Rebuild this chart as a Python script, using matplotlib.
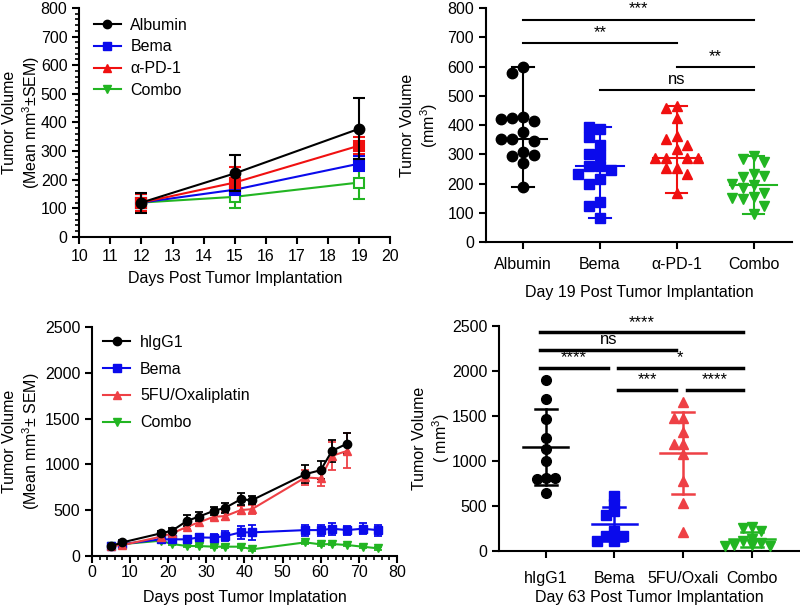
import matplotlib.pyplot as plt
import numpy as np
from matplotlib.lines import Line2D
from matplotlib.ticker import MultipleLocator

plt.rcParams['font.family'] = ['Liberation Sans', 'DejaVu Sans']
plt.rcParams['mathtext.fontset'] = 'custom'
plt.rcParams['mathtext.rm'] = 'Liberation Sans'
plt.rcParams['mathtext.it'] = 'Liberation Sans:italic'
plt.rcParams['font.size'] = 11

# ---- panel A: tumor growth, days 12-19
days_a = [12, 15, 19]
groups_a = ['Albumin', 'Bema', 'α-PD-1', 'Combo']
mean_a = [[120, 222, 378], [120, 165, 256], [120, 190, 319], [120, 140, 190]]
sem_a = [[35, 63, 107], [30, 25, 25], [30, 55, 30], [30, 38, 58]]

# ---- panel B: day 19 individual tumors
b_albumin = [598, 578, 428, 425, 415, 421, 375, 354, 347, 354, 309, 295, 299, 271, 189]
b_bema = [388, 392, 359, 333, 299, 301, 259, 260, 245, 234, 214, 198, 138, 124, 82]
b_pd1 = [465, 457, 423, 362, 351, 332, 317, 286, 286, 286, 286, 252, 252, 232, 169]
b_combo = [294, 284, 275, 231, 223, 226, 195, 197, 186, 169, 153, 147, 151, 123, 96]
b_labels = ['Albumin', 'Bema', 'α-PD-1', 'Combo']
b_sig = [(0, 3, 760, '***'), (0, 2, 680, '**'), (2, 3, 598, '**'), (1, 3, 519, 'ns')]

# ---- panel C: tumor growth, days 5-75
days_c = [5, 8, 18, 21, 25, 28, 32, 35, 39, 42, 56, 60, 63, 67, 71, 75]
groups_c = ['hIgG1', 'Bema', '5FU/Oxaliplatin', 'Combo']
higg_mean = [109, 149, 247, 276, 385, 429, 494, 527, 618, 610, 894, 937, 1148, 1228]
higg_sem = [25, 25, 25, 30, 60, 50, 45, 55, 65, 45, 100, 95, 120, 115]
bema_mean = [110, 130, 182, 182, 182, 203, 200, 218, 258, 258, 283, 283, 298, 283, 298, 283]
bema_sem = [20, 20, 25, 30, 35, 40, 45, 55, 70, 80, 60, 60, 65, 50, 60, 60]
fu_mean = [110, 120, 210, 247, 320, 367, 429, 436, 501, 512, 858, 847, 1094, 1148]
fu_sem = [20, 20, 25, 25, 30, 35, 40, 40, 45, 50, 80, 80, 150, 190]
combo_mean = [110, 130, 167, 131, 109, 109, 102, 102, 102, 73, 149, 127, 131, 120, 102, 84]
combo_sem = [15, 15, 15, 15, 15, 15, 15, 15, 15, 15, 15, 15, 15, 15, 15, 15]

# ---- panel D: day 63 individual tumors
d_higg = [1905, 1690, 1470, 1255, 1130, 1005, 815, 800, 815, 650]
d_bema = [608, 519, 441, 397, 219, 163, 163, 111, 111]
d_fu = [1655, 1480, 1480, 1320, 1185, 1185, 1075, 775, 535, 215]
d_combo = [265, 255, 220, 130, 110, 85, 70, 65, 60, 55]
d_labels = ['hIgG1', 'Bema', '5FU/Oxali', 'Combo']
d_sig = [(0, 3, 2433, '****'), (0, 2, 2240, 'ns'), (0, 1, 2040, '****'),
         (1, 3, 2040, '*'), (1, 2, 1795, '***'), (2, 3, 1795, '****')]

BLACK = '#000000'
BLUE = '#0a0aec'
RED = '#f01010'
RED2 = '#ee4045'
GREEN = '#22b522'


def prism_axes(ax):
    for s in ['top', 'right']:
        ax.spines[s].set_visible(False)
    for s in ['left', 'bottom']:
        ax.spines[s].set_linewidth(1.5)
    ax.tick_params(width=1.5, length=5, labelsize=11.5)
    ax.tick_params(which='minor', width=1.2, length=3)


def swarm(vals, step, gap):
    placed = []
    offs = []
    cands = [0.0] + [s * i * step for i in range(1, 8) for s in (-1, 1)]
    for v in vals:
        for c in cands:
            if all(abs(c - px) >= step * 0.95 or abs(v - pv) >= gap for px, pv in placed):
                break
        placed.append((c, v))
        offs.append(c)
    return np.array(offs)


fig = plt.figure(figsize=(8, 6.09), dpi=100)

# ================= panel A
ax = fig.add_axes([0.099, 0.611, 0.389, 0.376])
cols_a = [BLACK, BLUE, RED, GREEN]
mk_a = ['o', 's', '^', 'v']
for i in [0, 3, 1, 2]:
    ax.errorbar(days_a, mean_a[i], yerr=sem_a[i], color=cols_a[i], lw=1.5,
                marker='o' if i == 0 else 's', ms=7,
                mfc='white' if i == 3 else cols_a[i], mew=1.5,
                capsize=4, capthick=1.5, elinewidth=1.5, zorder=3 + (i == 0))
handles = [Line2D([], [], color=c, marker=m, lw=1.5, ms=6) for c, m in zip(cols_a, mk_a)]
ax.legend(handles, groups_a, loc='upper left', frameon=False, fontsize=11.5,
          handlelength=1.7, handletextpad=0.6, labelspacing=0.42,
          bbox_to_anchor=(0.0, 1.02))
ax.set_xlim(10, 20)
ax.set_ylim(0, 800)
ax.xaxis.set_major_locator(MultipleLocator(1))
ax.yaxis.set_major_locator(MultipleLocator(100))
ax.yaxis.set_minor_locator(MultipleLocator(20))
prism_axes(ax)
ax.set_xlabel('Days Post Tumor Implantation', fontsize=11.5, labelpad=5)
ax.set_ylabel('Tumor Volume\n(Mean mm$^3$$\\pm$SEM)', fontsize=11.5)
ax.yaxis.set_label_coords(-0.12, 0.5)

# ================= panel B
ax = fig.add_axes([0.6075, 0.6026, 0.3825, 0.384])
b_values = [b_albumin, b_bema, b_pd1, b_combo]
mk_b = ['o', 's', '^', 'v']
for i, vals in enumerate(b_values):
    vals = np.array(vals)
    xo = swarm(vals, 0.14, 32) + i
    ax.plot(xo, vals, ls='none', marker=mk_b[i], ms=7.5, color=cols_a[i], zorder=3)
    med = np.median(vals)
    ax.plot([i - 0.31, i + 0.31], [med, med], color=cols_a[i], lw=1.5)
    ax.plot([i, i], [vals.min(), vals.max()], color=cols_a[i], lw=1.5)
    for cy in (vals.min(), vals.max()):
        ax.plot([i - 0.14, i + 0.14], [cy, cy], color=cols_a[i], lw=1.5)
for a, b, y, lab in b_sig:
    ax.plot([a, b], [y, y], color='black', lw=1.5)
    ax.text((a + b) / 2, y + 12, lab, ha='center', va='bottom', fontsize=12)
ax.set_xlim(-0.48, 3.5)
ax.set_ylim(0, 800)
ax.set_xticks(range(4))
ax.set_xticklabels(b_labels)
ax.yaxis.set_major_locator(MultipleLocator(100))
prism_axes(ax)
ax.tick_params(axis='x', pad=6)
ax.set_xlabel('Day 19 Post Tumor Implantation', fontsize=11.5, labelpad=9)
ax.set_ylabel('Tumor Volume\n(mm$^3$)', fontsize=11.5)
ax.yaxis.set_label_coords(-0.15, 0.5)

# ================= panel C
ax = fig.add_axes([0.115, 0.087, 0.381, 0.376])
cols_c = [BLACK, BLUE, RED2, GREEN]
mean_c = [higg_mean, bema_mean, fu_mean, combo_mean]
sem_c = [higg_sem, bema_sem, fu_sem, combo_sem]
order_c = [3, 1, 2, 0]
for i in order_c:
    n = len(mean_c[i])
    ax.errorbar(days_c[:n], mean_c[i], yerr=sem_c[i], color=cols_c[i], lw=1.5,
                marker=mk_a[i] if i != 1 else 's', ms=6, capsize=3, capthick=1.3,
                elinewidth=1.3, label=groups_c[i])
handles = [Line2D([], [], color=c, marker=m, lw=1.5, ms=6) for c, m in zip(cols_c, mk_a)]
ax.legend(handles, groups_c, loc='upper left', frameon=False, fontsize=11.5,
          handlelength=1.7, handletextpad=0.6, labelspacing=0.75,
          bbox_to_anchor=(-0.01, 1.03))
ax.set_xlim(0, 80)
ax.set_ylim(0, 2500)
ax.xaxis.set_major_locator(MultipleLocator(10))
ax.xaxis.set_minor_locator(MultipleLocator(2))
ax.yaxis.set_major_locator(MultipleLocator(500))
prism_axes(ax)
ax.tick_params(axis='x', pad=1.5)
ax.set_xlabel('Days post Tumor Implatation', fontsize=11.5, labelpad=7)
ax.set_ylabel('Tumor Volume\n(Mean mm$^3$$\\pm$ SEM)', fontsize=11.5)
ax.yaxis.set_label_coords(-0.165, 0.5)

# ================= panel D
ax = fig.add_axes([0.62375, 0.095, 0.37625, 0.3695])
d_values = [d_higg, d_bema, d_fu, d_combo]
for i, vals in enumerate(d_values):
    vals = np.array(vals)
    xo = swarm(vals, 0.13, 65) + i
    ax.plot(xo, vals, ls='none', marker=mk_b[i], ms=7, color=cols_c[i], zorder=3)
    m = vals.mean()
    sd = vals.std(ddof=1)
    ax.plot([i - 0.33, i + 0.33], [m, m], color=cols_c[i], lw=1.8)
    ax.plot([i, i], [m - sd, m + sd], color=cols_c[i], lw=1.8)
    for cy in (m - sd, m + sd):
        ax.plot([i - 0.16, i + 0.16], [cy, cy], color=cols_c[i], lw=1.8)
for a, b, y, lab in d_sig:
    x0 = a - 0.08 if a == 0 else a + 0.05
    x1 = b - 0.13 if b == 3 else b - 0.1
    ax.plot([x0, x1], [y, y], color='black', lw=2.5)
    ax.text((x0 + x1) / 2, y + 25, lab, ha='center', va='bottom', fontsize=12)
ax.set_xlim(-0.68, 3.7)
ax.set_ylim(0, 2500)
ax.set_xticks(range(4))
ax.set_xticklabels(d_labels)
ax.yaxis.set_major_locator(MultipleLocator(500))
prism_axes(ax)
ax.tick_params(axis='x', pad=9)
ax.set_xlabel('Day 63 Post Tumor Implantation', fontsize=11.5, labelpad=3)
ax.set_ylabel('Tumor Volume\n( mm$^3$)', fontsize=11.5)
ax.yaxis.set_label_coords(-0.155, 0.5)

fig.savefig('out.png', dpi=100)
